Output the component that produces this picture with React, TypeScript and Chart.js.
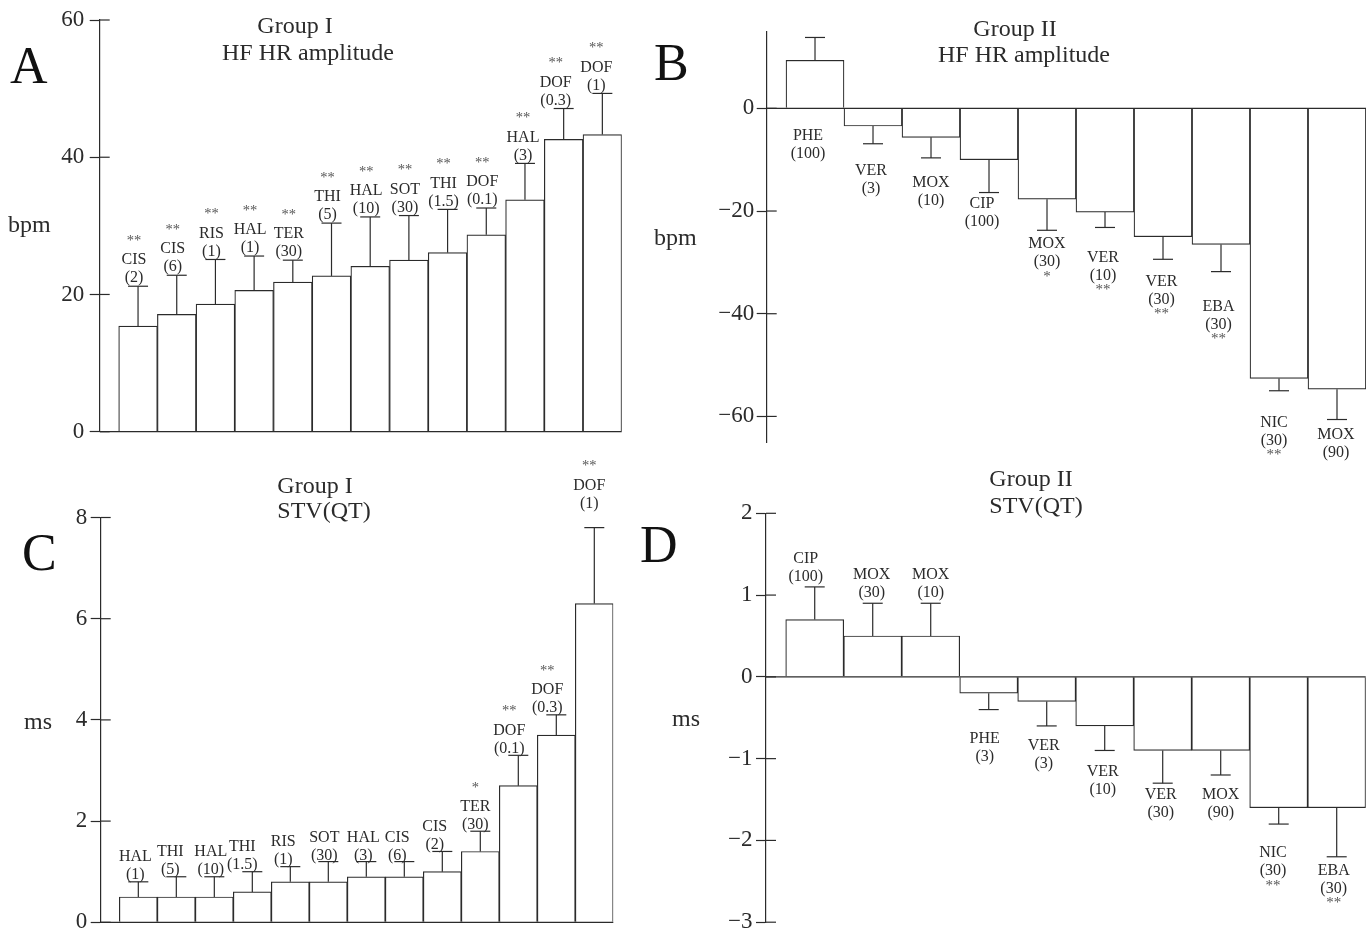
import React, { useEffect, useRef } from "react";
import { Chart, registerables } from "chart.js";

Chart.register(...registerables);

const FONT = '"Liberation Serif", "Times New Roman", serif';
const INK = "#2b2b2b";
const SIG_INK = "#555555";

// ---------- Panel A : Group I, HF HR amplitude ----------
const aNames = ["CIS", "CIS", "RIS", "HAL", "TER", "THI", "HAL", "SOT", "THI", "DOF", "HAL", "DOF", "DOF"];
const aDoses = ["(2)", "(6)", "(1)", "(1)", "(30)", "(5)", "(10)", "(30)", "(1.5)", "(0.1)", "(3)", "(0.3)", "(1)"];
const aSig = ["**", "**", "**", "**", "**", "**", "**", "**", "**", "**", "**", "**", "**"];
const aValues = [15.4, 17.1, 18.6, 20.6, 21.8, 22.7, 24.1, 25.0, 26.1, 28.7, 33.8, 42.6, 43.3];
const aErrors = [5.8, 5.7, 6.5, 5.0, 3.2, 7.7, 7.2, 6.5, 6.3, 3.9, 5.3, 4.5, 6.0];
const aTicks = [0, 20, 40, 60];

// ---------- Panel B : Group II, HF HR amplitude ----------
const bNames = ["PHE", "VER", "MOX", "CIP", "MOX", "VER", "VER", "EBA", "NIC", "MOX"];
const bDoses = ["(100)", "(3)", "(10)", "(100)", "(30)", "(10)", "(30)", "(30)", "(30)", "(90)"];
const bSig = ["", "", "", "", "*", "**", "**", "**", "**", ""];
const bValues = [9.35, -3.45, -5.65, -10.0, -17.7, -20.2, -25.0, -26.5, -52.6, -54.7];
const bErrors = [4.45, 3.45, 4.0, 6.4, 6.05, 3.0, 4.4, 5.3, 2.4, 5.9];
const bTicks = [0, -20, -40, -60];

// ---------- Panel C : Group I, STV(QT) ----------
const cNames = ["HAL", "THI", "HAL", "THI", "RIS", "SOT", "HAL", "CIS", "CIS", "TER", "DOF", "DOF", "DOF"];
const cDoses = ["(1)", "(5)", "(10)", "(1.5)", "(1)", "(30)", "(3)", "(6)", "(2)", "(30)", "(0.1)", "(0.3)", "(1)"];
const cSig = ["", "", "", "", "", "", "", "", "", "*", "**", "**", "**"];
const cValues = [0.5, 0.5, 0.5, 0.6, 0.8, 0.8, 0.9, 0.9, 1.0, 1.4, 2.7, 3.7, 6.3];
const cErrors = [0.3, 0.4, 0.4, 0.4, 0.3, 0.4, 0.3, 0.3, 0.4, 0.4, 0.6, 0.4, 1.5];
const cTicks = [0, 2, 4, 6, 8];

// ---------- Panel D : Group II, STV(QT) ----------
const dNames = ["CIP", "MOX", "MOX", "PHE", "VER", "VER", "VER", "MOX", "NIC", "EBA"];
const dDoses = ["(100)", "(30)", "(10)", "(3)", "(3)", "(10)", "(30)", "(90)", "(30)", "(30)"];
const dSig = ["", "", "", "", "", "", "", "", "**", "**"];
const dValues = [0.7, 0.5, 0.5, -0.2, -0.3, -0.6, -0.9, -0.9, -1.6, -1.6];
const dErrors = [0.4, 0.4, 0.4, 0.2, 0.3, 0.3, 0.4, 0.3, 0.2, 0.6];
const dTicks = [2, 1, 0, -1, -2, -3];

// annotation placement (pixel offsets of the text labels)
const aLabelGap = [8, 8, 8, 8, 8, 8, 8, 8, 8, 8, 8, 8, 8];
const aLabelDx = [-4, -4, -4, -4, -4, -4, -4, -4, -4, -4, -2, -8, -6];
const bLabelGap = [27, 27, 25, 11.7, 14, 30, 22.7, 35, 32, 15];
const bLabelDx = [-7, -2, 0, -7, 0, -2, -1.5, -2.5, -5, -1];
const cLabelGap = [7, 7, 7, 7, 7, 6, 6, 6, 7, 6, 7, 7, 24];
const cLabelDx = [-3, -6, -3.5, -10, -7, -4, -3, -7, -7.5, -5, -9, -9, -5];
const dLabelGap = [10, 10, 10, 29, 20, 21, 12, 20, 29, 14];
const dLabelDx = [-9, -1, 0, -4, -3, -2, -2, 0, -5.7, -3];

const CANVAS_W = 1371;
const CANVAS_H = 1000;
const AXIS_BOX = 90;

type Spec = {
  key: string;
  names: string[];
  doses: string[];
  sig: string[];
  values: number[];
  errors: number[];
  ticks: number[];
  yMin: number;
  yMax: number;
  xMin: number;
  xMax: number;
  area: { left: number; top: number; right: number; bottom: number };
  tickPad: number;
  labelMode: "above" | "below" | "outside";
  labelGap: number[];
  labelDx: number[];
  letter: string;
  letterPos: [number, number];
  unit: string;
  unitPos: [number, number];
  titles: [string, number, number][];
};

const specs: Spec[] = [
  {
    key: "A",
    names: aNames, doses: aDoses, sig: aSig, values: aValues, errors: aErrors, ticks: aTicks,
    yMin: 0, yMax: 60, xMin: -0.991, xMax: 12.5,
    area: { left: 99.7, top: 20, right: 621.7, bottom: 431.7 },
    tickPad: 5.5,
    labelMode: "above", labelGap: aLabelGap, labelDx: aLabelDx,
    letter: "A", letterPos: [10, 83],
    unit: "bpm", unitPos: [8, 226],
    titles: [["Group I", 295, 26.7], ["HF HR amplitude", 308, 53.3]],
  },
  {
    key: "B",
    names: bNames, doses: bDoses, sig: bSig, values: bValues, errors: bErrors, ticks: bTicks,
    yMin: -65, yMax: 15, xMin: -0.833, xMax: 9.5,
    area: { left: 766.7, top: 31.3, right: 1366, bottom: 442.1 },
    tickPad: 2.5,
    labelMode: "below", labelGap: bLabelGap, labelDx: bLabelDx,
    letter: "B", letterPos: [654, 80],
    unit: "bpm", unitPos: [654, 239],
    titles: [["Group II", 1015, 30], ["HF HR amplitude", 1024, 56]],
  },
  {
    key: "C",
    names: cNames, doses: cDoses, sig: cSig, values: cValues, errors: cErrors, ticks: cTicks,
    yMin: 0, yMax: 8, xMin: -0.99, xMax: 12.5,
    area: { left: 100.7, top: 517.5, right: 613.3, bottom: 922.3 },
    tickPad: 3.5,
    labelMode: "above", labelGap: cLabelGap, labelDx: cLabelDx,
    letter: "C", letterPos: [22, 570],
    unit: "ms", unitPos: [24, 723],
    titles: [["Group I", 315, 487], ["STV(QT)", 324, 512]],
  },
  {
    key: "D",
    names: dNames, doses: dDoses, sig: dSig, values: dValues, errors: dErrors, ticks: dTicks,
    yMin: -3, yMax: 2, xMin: -0.84, xMax: 9.5,
    area: { left: 766, top: 513.3, right: 1365.7, bottom: 922.2 },
    tickPad: 3.5,
    labelMode: "outside", labelGap: dLabelGap, labelDx: dLabelDx,
    letter: "D", letterPos: [640, 562],
    unit: "ms", unitPos: [672, 720],
    titles: [["Group II", 1031, 480], ["STV(QT)", 1036, 506.7]],
  },
];

function fmtTick(v: number): string {
  if (v < 0) return "\u2212" + String(Math.abs(v));
  return String(v);
}

function line(ctx: CanvasRenderingContext2D, x1: number, y1: number, x2: number, y2: number) {
  ctx.beginPath();
  ctx.moveTo(x1, y1);
  ctx.lineTo(x2, y2);
  ctx.stroke();
}

function text(
  ctx: CanvasRenderingContext2D,
  s: string,
  x: number,
  y: number,
  size: number,
  color: string,
  align: CanvasTextAlign = "center",
  baseline: CanvasTextBaseline = "middle"
) {
  ctx.font = `${size}px ${FONT}`;
  ctx.fillStyle = color;
  ctx.textAlign = align;
  ctx.textBaseline = baseline;
  ctx.fillText(s, x, y);
}

function buildChart(canvas: HTMLCanvasElement, p: Spec) {
  const decor = {
    id: "panelDecor" + p.key,
    afterDatasetsDraw(chart: any) {
      const ctx: CanvasRenderingContext2D = chart.ctx;
      const xs = chart.scales.x;
      const ys = chart.scales.y;
      const ca = chart.chartArea;
      ctx.save();
      ctx.strokeStyle = INK;
      ctx.lineWidth = 1.2;
      // zero line
      const y0 = ys.getPixelForValue(0);
      line(ctx, ca.left, y0, ca.right, y0);
      // inner half of the axis tick marks
      p.ticks.forEach((t) => {
        const y = ys.getPixelForValue(t);
        line(ctx, ca.left, y, ca.left + 10, y);
      });
      // error bars
      p.values.forEach((v, i) => {
        const end = v >= 0 ? v + p.errors[i] : v - p.errors[i];
        const x = xs.getPixelForValue(i);
        const yv = ys.getPixelForValue(v);
        const ye = ys.getPixelForValue(end);
        line(ctx, x, yv, x, ye);
        line(ctx, x - 10, ye, x + 10, ye);
      });
      ctx.restore();
    },
    afterDraw(chart: any) {
      const ctx: CanvasRenderingContext2D = chart.ctx;
      const xs = chart.scales.x;
      const ys = chart.scales.y;
      ctx.save();
      // bar annotations
      p.values.forEach((v, i) => {
        const end = v >= 0 ? v + p.errors[i] : v - p.errors[i];
        const x = xs.getPixelForValue(i) + p.labelDx[i];
        const ye = ys.getPixelForValue(end);
        const y0 = ys.getPixelForValue(0);
        const gap = p.labelGap[i];
        const above = p.labelMode === "above" || (p.labelMode === "outside" && v >= 0);
        if (above) {
          const doseY = ye - gap;
          const nameY = doseY - 18;
          const sigY = nameY - 19;
          text(ctx, p.doses[i], x, doseY, 16, INK);
          text(ctx, p.names[i], x, nameY, 16, INK);
          if (p.sig[i]) text(ctx, p.sig[i], x, sigY, 14.5, SIG_INK);
        } else {
          const anchor = Math.max(ye, y0);
          const nameY = anchor + gap;
          const doseY = nameY + 18;
          const sigY = doseY + 14.5;
          text(ctx, p.names[i], x, nameY, 16, INK);
          text(ctx, p.doses[i], x, doseY, 16, INK);
          if (p.sig[i]) text(ctx, p.sig[i], x, sigY, 15, SIG_INK);
        }
      });
      // titles, panel letter, unit
      p.titles.forEach(([s, x, y]) => text(ctx, s, x, y, 24, INK));
      text(ctx, p.letter, p.letterPos[0], p.letterPos[1], 52, "#111", "left", "alphabetic");
      text(ctx, p.unit, p.unitPos[0], p.unitPos[1], 24, INK, "left", "middle");
      ctx.restore();
    },
  };

  return new Chart(canvas, {
    type: "bar",
    data: {
      datasets: [
        {
          data: p.values.map((v, i) => ({ x: i, y: v })),
          backgroundColor: "#ffffff",
          borderColor: INK,
          borderWidth: 1.2,
          categoryPercentage: 1,
          barPercentage: 1,
        },
      ],
    },
    options: {
      animation: false,
      responsive: false,
      devicePixelRatio: 1,
      layout: {
        padding: {
          left: p.area.left - AXIS_BOX,
          top: p.area.top,
          right: CANVAS_W - p.area.right,
          bottom: CANVAS_H - p.area.bottom,
        },
      },
      plugins: {
        legend: { display: false },
        tooltip: { enabled: false },
        title: { display: false },
      },
      scales: {
        x: {
          type: "linear",
          display: false,
          offset: false,
          grid: { offset: false },
          min: p.xMin,
          max: p.xMax,
          afterBuildTicks: (s: any) => {
            s.ticks = p.values.map((_, i) => ({ value: i }));
          },
        },
        y: {
          type: "linear",
          min: p.yMin,
          max: p.yMax,
          afterBuildTicks: (s: any) => {
            s.ticks = p.ticks.map((v) => ({ value: v }));
          },
          afterFit: (s: any) => {
            s.width = AXIS_BOX;
          },
          grid: {
            drawOnChartArea: false,
            drawTicks: true,
            tickLength: 10,
            color: INK,
            tickColor: INK,
            tickWidth: 1.2,
          },
          border: { display: true, color: INK, width: 1.2 },
          ticks: {
            font: { family: FONT, size: 23 },
            color: INK,
            padding: p.tickPad,
            callback: (v: any) => fmtTick(Number(v)),
          },
        },
      },
    } as any,
    plugins: [decor],
  });
}

function Panel({ spec }: { spec: Spec }) {
  const ref = useRef<HTMLCanvasElement | null>(null);
  useEffect(() => {
    if (!ref.current) return;
    const chart = buildChart(ref.current, spec);
    return () => chart.destroy();
  }, [spec]);
  return (
    <canvas
      ref={ref}
      width={CANVAS_W}
      height={CANVAS_H}
      style={{ position: "absolute", left: 0, top: 0 }}
    />
  );
}

export default function App() {
  return (
    <div
      style={{
        position: "absolute",
        left: 0,
        top: 0,
        width: CANVAS_W,
        height: 933,
        overflow: "hidden",
        background: "#ffffff",
      }}
    >
      {specs.map((s) => (
        <Panel key={s.key} spec={s} />
      ))}
    </div>
  );
}
